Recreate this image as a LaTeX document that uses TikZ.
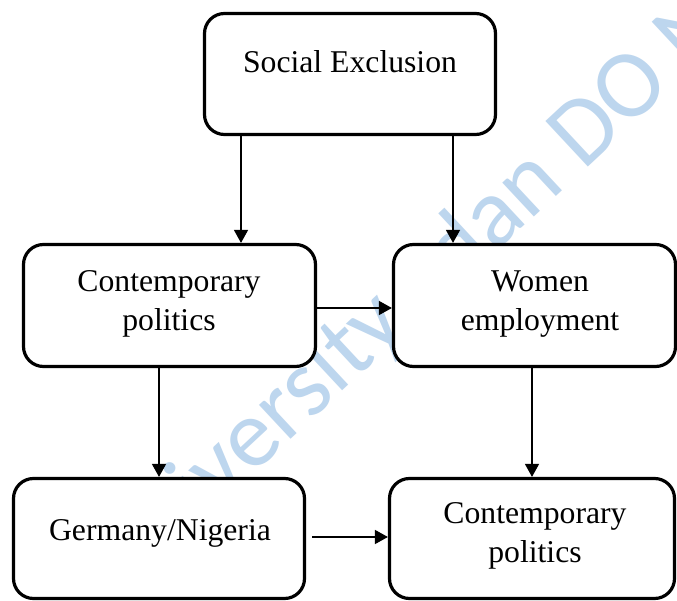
\documentclass[tikz,border=0pt]{standalone}
\usepackage{fontspec}
\setmainfont{Liberation Serif}
\newfontfamily\wmfont{Carlito}
\usetikzlibrary{arrows.meta,calc}
\definecolor{wmblue}{RGB}{189,214,238}
\tikzset{
  box/.style={draw=black, line width=3.2pt, rounded corners=20pt, fill=white, inner sep=0pt},
  lbl/.style={anchor=base, inner sep=0pt, font=\fontsize{31.7pt}{39pt}\selectfont},
  arr/.style={draw=black, line width=1.5pt, -{Triangle[length=13pt,width=14pt]}},
  wm/.style={text=wmblue, inner sep=0pt, rotate=43, font=\wmfont\fontsize{97pt}{97pt}\selectfont}
}
\begin{document}
\begin{tikzpicture}[x=1pt,y=-1pt]
\useasboundingbox (0,0) rectangle (677,601);
\clip (0,0) rectangle (677,601);
\fill[white] (0,0) rectangle (677,601);
% watermark
\node[wm, anchor=base east] (wmA) at (410,328) {University};
\node[wm, anchor=base west] (wmB) at (458.5,287.8) {dan DO NOT};
% boxes
\node[box, minimum width=291pt, minimum height=121pt] (se)  at (350,74) {};
\node[box, minimum width=292pt, minimum height=122pt] (cp)  at (169.5,305.5) {};
\node[box, minimum width=282pt, minimum height=122pt] (we)  at (534.5,305.5) {};
\node[box, minimum width=291pt, minimum height=120pt] (gn)  at (159,538.5) {};
\node[box, minimum width=285pt, minimum height=120pt] (cp2) at (532,538.5) {};
% texts
\node[lbl] (set)  at (350,73)  {Social Exclusion};
\node[lbl] (cpa)  at (169,292) {Contemporary};
\node[lbl] (cpb)  at (169,331) {politics};
\node[lbl] (wea)  at (540,292) {Women};
\node[lbl] (web)  at (540,331) {employment};
\node[lbl] (gnt)  at (160,540) {Germany/Nigeria};
\node[lbl] (cp2a) at (535,523) {Contemporary};
\node[lbl] (cp2b) at (535,562) {politics};
% connectors
\draw[arr] (241,0 |- se.south) -- (241,0 |- cp.north);
\draw[arr] (453,0 |- se.south) -- (453,0 |- we.north);
\draw[arr] (cp.east |- 0,308) -- (we.west |- 0,308);
\draw[arr] (159,0 |- cp.south) -- (159,0 |- gn.north);
\draw[arr] (532,0 |- we.south) -- (532,0 |- cp2.north);
\draw[arr, shorten <=6pt] (gn.east |- 0,537) -- (cp2.west |- 0,537);
\end{tikzpicture}
\end{document}
